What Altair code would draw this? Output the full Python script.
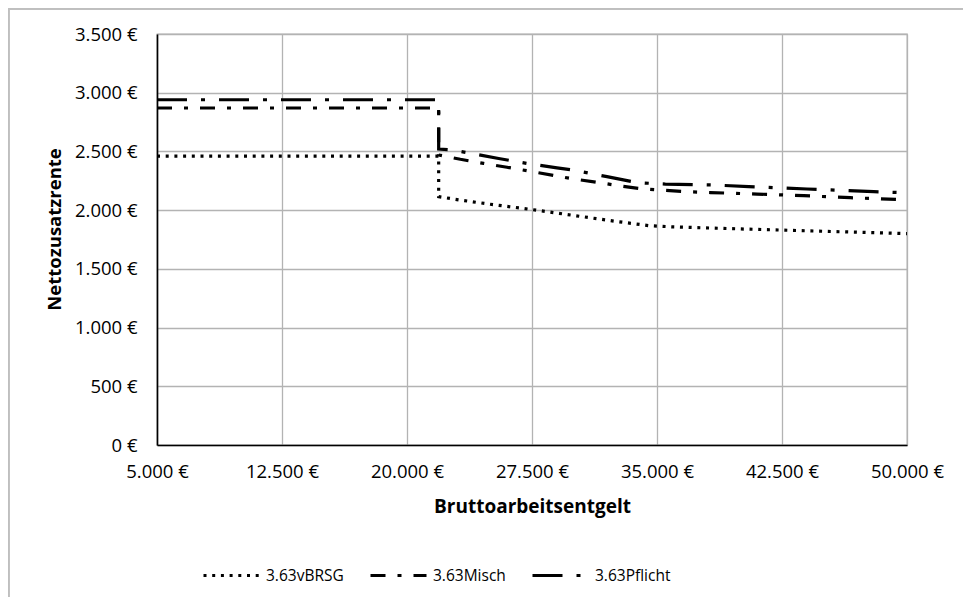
import altair as alt
import pandas as pd

series = ["3.63vBRSG", "3.63Misch", "3.63Pflicht"]

x_vbrsg = [5000, 21900, 21900, 23000, 25000, 27500, 30000, 32500, 34500, 36000, 40000, 45000, 50000]
y_vbrsg = [2460, 2460, 2115, 2090, 2050, 2005, 1955, 1905, 1868, 1857, 1840, 1820, 1800]

x_misch = [5000, 21900, 21900, 23200, 24600, 26000, 27300, 30000, 31400, 32800, 34200, 35500,
           36900, 38200, 39700, 41000, 43800, 46600, 50000]
y_misch = [2870, 2870, 2470, 2433, 2398, 2365, 2333, 2265, 2237, 2206, 2180, 2168,
           2157, 2150, 2143, 2137, 2123, 2106, 2088]

x_pflicht = [5000, 21900, 21900, 22700, 23600, 25500, 27400, 29000, 30000, 32000, 33800, 35500,
             38500, 40500, 44000, 48000, 50000]
y_pflicht = [2940, 2940, 2520, 2512, 2490, 2440, 2393, 2360, 2340, 2285, 2234, 2222,
             2214, 2200, 2180, 2157, 2148]

x_ticks = [5000, 12500, 20000, 27500, 35000, 42500, 50000]
y_ticks = [0, 500, 1000, 1500, 2000, 2500, 3000, 3500]

dashes = [[3, 5.7], [15, 12, 4, 12], [30, 14, 4, 14]]

rows = []
for name, xs, ys in [(series[0], x_vbrsg, y_vbrsg), (series[1], x_misch, y_misch), (series[2], x_pflicht, y_pflicht)]:
    for i, (xv, yv) in enumerate(zip(xs, ys)):
        rows.append({"series": name, "x": xv, "y": yv, "idx": i})
df = pd.DataFrame(rows)

FONT = "Open Sans"
label_expr = "replace(format(datum.value, ',.0f'), ',', '.') + ' €'"

lines = alt.Chart(df).mark_line(color="black", strokeWidth=3.2).encode(
    x=alt.X("x:Q",
            scale=alt.Scale(domain=[5000, 50000], nice=False, zero=False),
            axis=alt.Axis(values=x_ticks, title="Bruttoarbeitsentgelt", labelExpr=label_expr,
                          grid=True, ticks=False, labelPadding=17, labelFlush=False,
                          titleX=375, titleY=61, titleBaseline="middle", titleFontSize=19)),
    y=alt.Y("y:Q",
            scale=alt.Scale(domain=[0, 3500], nice=False),
            axis=alt.Axis(values=y_ticks, title="Nettozusatzrente", labelExpr=label_expr,
                          grid=True, ticks=False, labelPadding=20,
                          titleX=-103, titleY=195, titleBaseline="middle", titleFontSize=18.5)),
    strokeDash=alt.StrokeDash("series:N",
                              scale=alt.Scale(domain=series, range=dashes),
                              sort=series,
                              legend=alt.Legend(title=None, orient="none", direction="horizontal",
                                                legendX=45, legendY=512,
                                                symbolType="stroke", symbolSize=3136,
                                                symbolStrokeWidth=3, symbolStrokeColor="black",
                                                labelFont=FONT, labelFontSize=15.5, labelColor="black",
                                                labelOffset=5, columnPadding=20)),
    order="idx:Q",
)

border_left = alt.Chart(df).mark_rule(color="#bfbfbf", strokeWidth=1.3).encode(
    x=alt.value(-148.5), y=alt.value(-25.5), y2=alt.value(571))
border_top = alt.Chart(df).mark_rule(color="#bfbfbf", strokeWidth=1.3).encode(
    x=alt.value(-148.5), x2=alt.value(814), y=alt.value(-25.5))

chart = alt.layer(border_left, border_top, lines).properties(
    width=750, height=411,
    autosize=alt.AutoSizeParams(type="none"),
    padding={"left": 149, "top": 26, "right": 56, "bottom": 152},
).configure_view(stroke="#b3b3b3", strokeWidth=1.3).configure_axis(
    labelFont=FONT, labelFontSize=18.5, labelColor="black",
    titleFont=FONT, titleFontWeight="bold", titleColor="black",
    gridColor="#b3b3b3", gridWidth=1.3, domainColor="black", domainWidth=1.6,
)

chart.save("out.html", embed_options={"renderer": "svg", "actions": False})
